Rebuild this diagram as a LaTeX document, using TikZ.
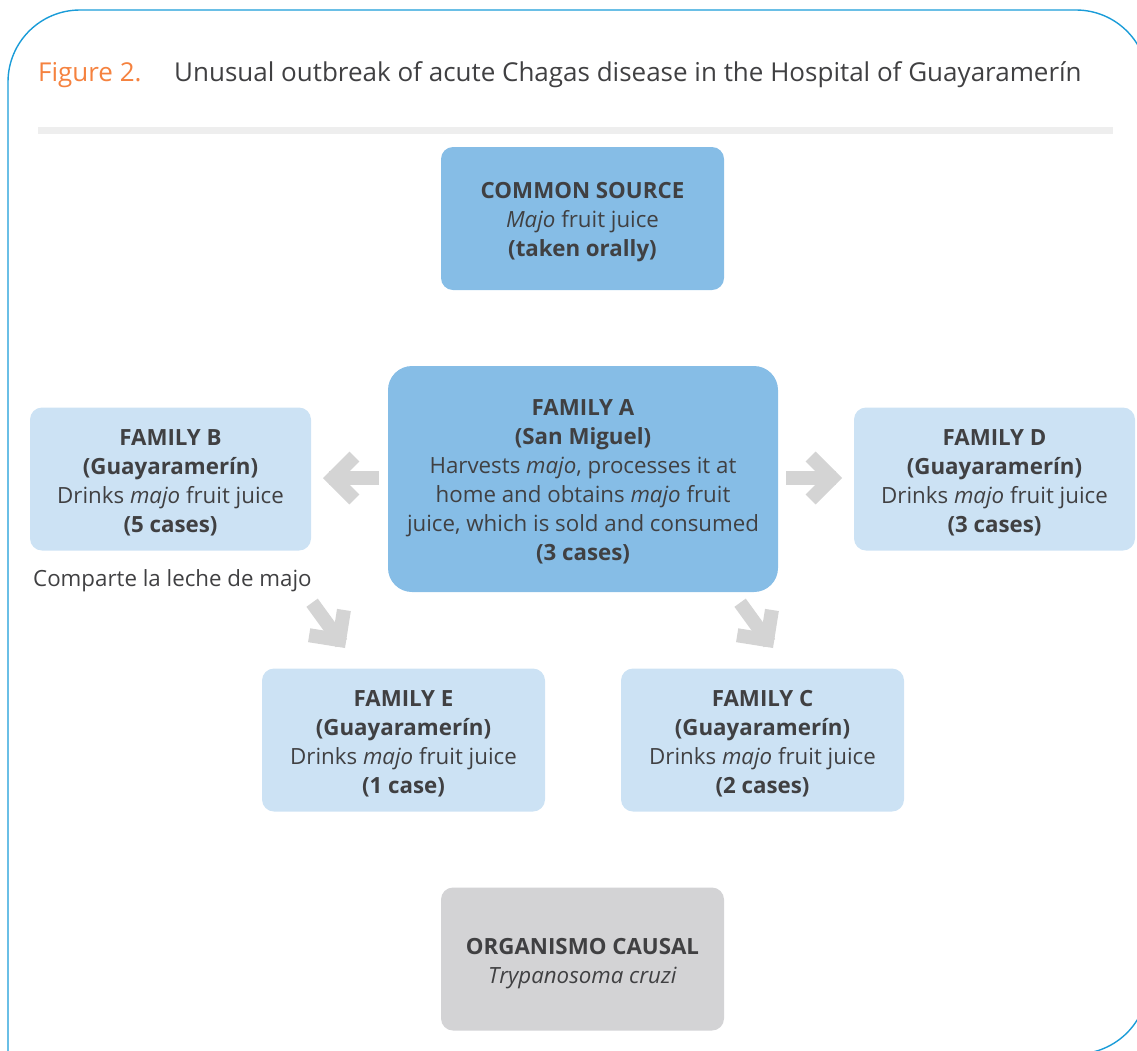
\documentclass[tikz,border=0pt]{standalone}
\usepackage{fontspec}
\setmainfont{Open Sans}
\definecolor{frameblue}{HTML}{1A9CD8}
\definecolor{titleorange}{HTML}{F5823F}
\definecolor{txt}{HTML}{404042}
\definecolor{darkbox}{HTML}{86BDE6}
\definecolor{lightbox}{HTML}{CCE2F4}
\definecolor{greybox}{HTML}{D3D3D5}
\definecolor{arrowgrey}{HTML}{D4D4D4}
\definecolor{divider}{HTML}{EEEEEE}
\tikzset{
  boxbase/.style={inner sep=0pt, minimum width=283pt, minimum height=143pt},
  boxtext/.style={text=txt, align=center, inner sep=0pt, font=\fontsize{22.3}{29}\selectfont},
  darkbx/.style={boxbase, fill=darkbox, rounded corners=12pt},
  lightbx/.style={boxbase, fill=lightbox, rounded corners=12pt},
  greybx/.style={boxbase, fill=greybox, rounded corners=12pt},
  barrow/.pic={
    \draw[arrowgrey, line width=14pt, line join=miter, miter limit=10] (-31.4,-21.5) -- (-9.9,0) -- (-31.4,21.5);
    \draw[arrowgrey, line width=14pt] (-6,0) -- (-56,0);
  }
}
\begin{document}
\begin{tikzpicture}[x=1pt,y=-1pt]
\useasboundingbox (0,0) rectangle (1137,1050);
\clip (0,0) rectangle (1137,1050);
\draw[frameblue, line width=1.4pt, rounded corners=72pt] (8,1100) -- (8,10) -- (1148,10) -- (1148,1054) -- (-50,1054);
% title
\node[anchor=base west, inner sep=0pt, text=titleorange, font=\fontsize{26}{28}\selectfont] (fig) at (38,81) {Figure 2.};
\node[anchor=base west, inner sep=0pt, text=txt, font=\fontsize{26}{28}\selectfont] (title) at (174,81) {Unusual outbreak of acute Chagas disease in the Hospital of Guayaramerín};
\fill[divider] (38,127) rectangle (1113,134);
% boxes
\node[darkbx] (src) at (582.5,218.5) {};
\node[boxtext] (srcT) at ([yshift=-4pt]src.center) {\textbf{COMMON SOURCE}\\\textit{Majo} fruit juice\\\textbf{(taken orally)}};
\node[darkbx, rounded corners=24pt, minimum width=390pt, minimum height=226pt] (famA) at (583,479) {};
\node[boxtext] (famAT) at ([yshift=-3pt]famA.center) {\textbf{FAMILY A}\\\textbf{(San Miguel)}\\Harvests \textit{majo}, processes it at\\home and obtains \textit{majo} fruit\\juice, which is sold and consumed\\\textbf{(3 cases)}};
\node[lightbx, minimum width=281pt] (famB) at (170.5,479) {};
\node[boxtext] (famBT) at ([yshift=-4pt]famB.center) {\textbf{FAMILY B}\\\textbf{(Guayaramerín)}\\Drinks \textit{majo} fruit juice\\\textbf{(5 cases)}};
\node[lightbx, minimum width=281pt] (famD) at (994.5,479) {};
\node[boxtext] (famDT) at ([yshift=-4pt]famD.center) {\textbf{FAMILY D}\\\textbf{(Guayaramerín)}\\Drinks \textit{majo} fruit juice\\\textbf{(3 cases)}};
\node[lightbx] (famE) at (403.5,740) {};
\node[boxtext] (famET) at ([yshift=-4pt]famE.center) {\textbf{FAMILY E}\\\textbf{(Guayaramerín)}\\Drinks \textit{majo} fruit juice\\\textbf{(1 case)}};
\node[lightbx] (famC) at (762.5,740) {};
\node[boxtext] (famCT) at ([yshift=-4pt]famC.center) {\textbf{FAMILY C}\\\textbf{(Guayaramerín)}\\Drinks \textit{majo} fruit juice\\\textbf{(2 cases)}};
\node[greybx] (org) at (582.5,959) {};
\node[boxtext] (orgT) at ([yshift=-5pt]org.center) {\textbf{ORGANISMO CAUSAL}\\\textit{Trypanosoma cruzi}};
\node[anchor=west, inner sep=0pt, text=txt, font=\fontsize{22.3}{29}\selectfont] (share) at (33,581) {Comparte la leche de majo};
% arrows
\coordinate (tipB) at (323,478);
\coordinate (tipD) at (842,478);
\coordinate (tipE) at (345,648);
\coordinate (tipC) at (773,648);
\pic[rotate=180] at (tipB) {barrow};
\pic at (tipD) {barrow};
\pic[rotate=-54] at (tipE) {barrow};
\pic[rotate=-54] at (tipC) {barrow};
\end{tikzpicture}
\end{document}
